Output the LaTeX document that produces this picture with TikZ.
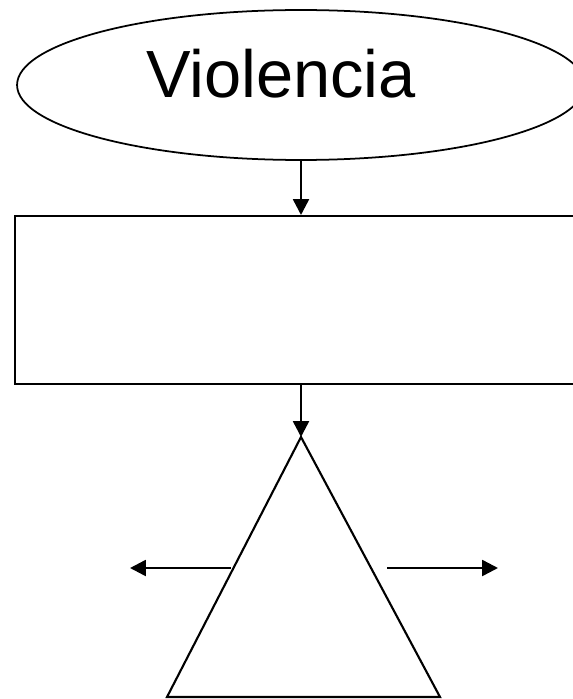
\documentclass[tikz,border=0pt]{standalone}
\usepackage{fontspec}
\setmainfont{Liberation Sans}
\usetikzlibrary{shapes,positioning,arrows.meta}
\tikzset{ell/.style={ellipse,draw,line width=1pt,minimum width=11.36cm,minimum height=3cm,inner sep=0pt},
         box/.style={rectangle,draw,line width=1.4pt,minimum width=11.7cm,minimum height=3.36cm,inner sep=0pt},
         arr/.style={line width=1.4pt,-{Triangle[length=9pt,width=9pt]}}}

\begin{document}
\begin{tikzpicture}[x=0.02cm,y=-0.02cm]
    \useasboundingbox (0,0) rectangle (573,699);
    \node[ell] (v) at (301,85) {};
    \node[font=\fontsize{38}{40}\selectfont] (t) at (281,74) {Violencia};
    \node[box,anchor=north west] (r) at (14,215) {};

    \coordinate (top) at (301,437);
    \coordinate (bl) at (167,697);
    \coordinate (br) at (440,697);
    \draw[line width=1.2pt,line join=miter] (top) -- (bl) -- (br) -- cycle;

    \coordinate (l0) at (231,568);
    \coordinate (l1) at (130,568);
    \coordinate (r0) at (387,568);
    \coordinate (r1) at (498,568);

    \draw [arr] (v.south) -- (v.south |- r.north);
    \draw [arr] (v.south |- r.south) to []node[]{} (top);
    \draw [arr] (l0) to []node[]{} (l1);
    \draw [arr] (r0) to []node[]{} (r1);
\end{tikzpicture}
\end{document}
